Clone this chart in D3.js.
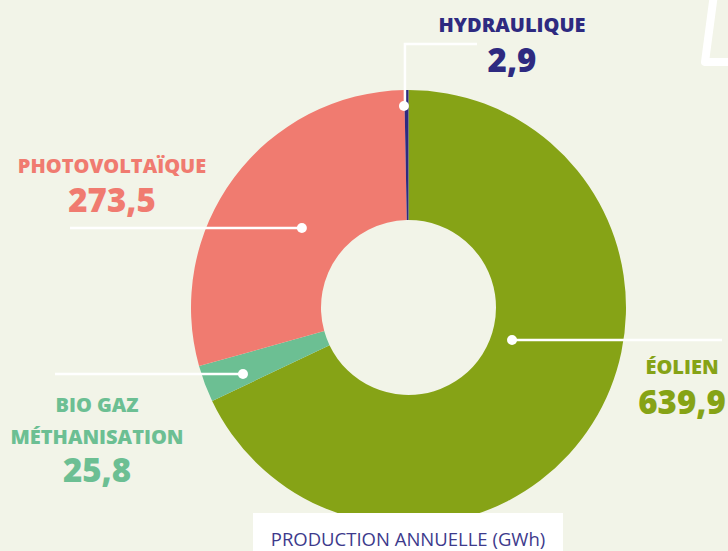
<!DOCTYPE html>
<html>
<head>
<meta charset="utf-8">
<script src="https://cdn.jsdelivr.net/npm/d3@7"></script>
<style>
  html, body { margin: 0; padding: 0; background: #f2f4e8; }
  svg { display: block; }
  text { font-family: "Open Sans", sans-serif; }
</style>
</head>
<body>
<svg id="chart"></svg>
<script>
// production annuelle par filière (GWh), dans l'ordre horaire depuis midi
var filieres = ["ÉOLIEN", "BIO GAZ MÉTHANISATION", "PHOTOVOLTAÏQUE", "HYDRAULIQUE"];
var production = [639.9, 25.8, 273.5, 2.9];
var valueLabels = ["639,9", "25,8", "273,5", "2,9"];
var couleurs = ["#86a316", "#6cbf93", "#f07b70", "#2e2a80"];

var width = 728, height = 551;
var cx = 408.5, cy = 307.5;
var outerR = 217.5, innerR = 87.5;

var svg = d3.select("#chart")
    .attr("width", width)
    .attr("height", height);

svg.append("rect")
    .attr("width", width)
    .attr("height", height)
    .attr("fill", "#f2f4e8");

// petit trait déco en haut à droite
svg.append("path")
    .attr("d", "M714,-6 L705,62 L740,62")
    .attr("fill", "none")
    .attr("stroke", "#ffffff")
    .attr("stroke-width", 8)
    .attr("stroke-linejoin", "round");

var data = filieres.map(function(f, i) {
  return {name: f, value: production[i], label: valueLabels[i], color: couleurs[i]};
});

var pie = d3.pie()
    .sort(null)
    .value(function(d) { return d.value; });

var arc = d3.arc()
    .innerRadius(innerR)
    .outerRadius(outerR);

var g = svg.append("g")
    .attr("transform", "translate(" + cx + "," + cy + ")");

g.selectAll("path.slice")
    .data(pie(data))
    .enter().append("path")
    .attr("class", "slice")
    .attr("d", arc)
    .attr("fill", function(d) { return d.data.color; });

// leaders : point sur l'anneau (angle en degrés, rayon) + ligne vers le texte
var leaders = [
  {angle: 107.4, r: 108.5, path: function(p) { return [[p[0], p[1]], [722, p[1]]]; }},
  {angle: 248.1, r: 178.4, path: function(p) { return [[p[0], p[1]], [55, p[1]]]; }},
  {angle: 306.7, r: 133, path: function(p) { return [[p[0], p[1]], [70, p[1]]]; }},
  {angle: 358.7, r: 201.5, path: function(p) { return [[p[0] + 1, p[1]], [p[0] + 1, 44], [477, 44]]; }}
];

var line = d3.line();

leaders.forEach(function(l, i) {
  var a = l.angle * Math.PI / 180;
  var p = [cx + l.r * Math.sin(a), cy - l.r * Math.cos(a)];
  svg.append("path")
      .attr("d", line(l.path(p)))
      .attr("fill", "none")
      .attr("stroke", "#ffffff")
      .attr("stroke-width", 2.5);
  svg.append("circle")
      .attr("cx", p[0])
      .attr("cy", p[1])
      .attr("r", 5)
      .attr("fill", "#ffffff");
});

// textes des filières
var labelPos = [
  {x: 682, names: [["ÉOLIEN", 374]], val: 414},
  {x: 97, names: [["BIO GAZ", 412], ["MÉTHANISATION", 444]], val: 482},
  {x: 112, names: [["PHOTOVOLTAÏQUE", 173]], val: 212},
  {x: 512, names: [["HYDRAULIQUE", 32]], val: 72}
];

data.forEach(function(d, i) {
  var lp = labelPos[i];
  lp.names.forEach(function(n) {
    svg.append("text")
        .attr("x", lp.x)
        .attr("y", n[1])
        .attr("text-anchor", "middle")
        .attr("font-size", 20)
        .attr("font-weight", 800)
        .attr("fill", d.color)
        .text(n[0]);
  });
  svg.append("text")
      .attr("x", lp.x)
      .attr("y", lp.val)
      .attr("text-anchor", "middle")
      .attr("font-size", 33)
      .attr("font-weight", 800)
      .attr("fill", d.color)
      .text(d.label);
});

// cartouche du titre
svg.append("rect")
    .attr("x", 253)
    .attr("y", 513)
    .attr("width", 310)
    .attr("height", 40)
    .attr("fill", "#ffffff");

svg.append("text")
    .attr("x", 408)
    .attr("y", 546)
    .attr("text-anchor", "middle")
    .attr("font-size", 18.5)
    .attr("fill", "#3d3a8c")
    .text("PRODUCTION ANNUELLE (GWh)");
</script>
</body>
</html>
